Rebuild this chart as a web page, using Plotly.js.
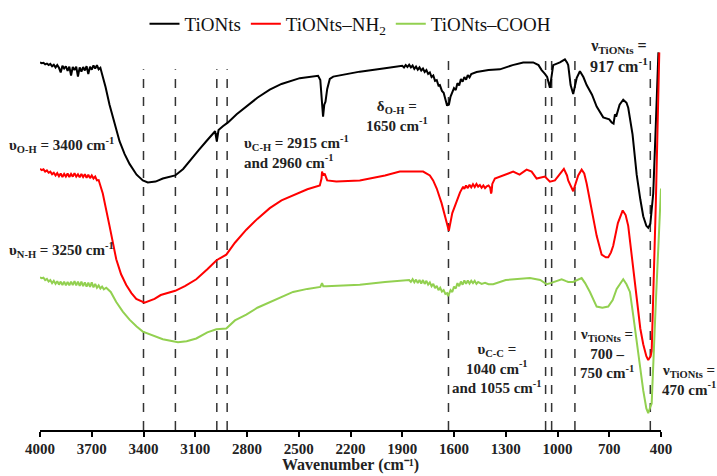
<!DOCTYPE html>
<html>
<head>
<meta charset="utf-8">
<script src="https://cdn.plot.ly/plotly-3.0.1.min.js"></script>
<style>html,body{margin:0;padding:0;background:#fff;}#chart{width:717px;height:476px;}</style>
</head>
<body>
<div id="chart"></div>
<script>
// Wavenumber (cm-1) and transmittance (a.u., offset)
const wnTiONts = [4000,3990,3980,3970,3960,3950,3940,3930,3920,3910,3900,3890,3880,3870,3860,3850,3840,3830,3820,3810,3800,3790,3780,3770,3760,3750,3740,3730,3720,3710,3700,3690,3680,3670,3660,3650,3640,3620,3597,3570,3539,3510,3481,3440,3404,3375,3330,3288,3250,3216,3170,3133,3080,3036,3000,2985,2975,2965,2940,2910,2860,2804,2740,2668,2600,2494,2420,2388,2375,2365,2359,2352,2345,2335,2320,2300,2146,2000,1953,1900,1890,1880,1870,1860,1850,1840,1830,1820,1810,1800,1790,1780,1770,1760,1750,1740,1730,1720,1710,1700,1690,1682,1670,1660,1650,1645,1640,1635,1630,1620,1610,1600,1590,1580,1570,1560,1550,1540,1530,1520,1510,1500,1469,1400,1334,1260,1199,1141,1110,1092,1073,1060,1044,1032,1025,986,957,945,938,924,909,889,870,850,831,800,773,735,700,686,675,667,660,640,619,600,590,565,541,520,503,485,474,462,445,430,415];
const tTiONts = [95.6,95.4,95.5,95.1,95.3,94.9,95.2,94.6,95.0,94.3,94.9,94.2,93.0,94.7,94.0,94.6,93.4,94.5,92.2,94.4,93.6,94.5,91.9,94.3,93.2,94.4,93.5,94.6,92.6,94.5,93.7,94.8,94.0,94.9,93.8,94.2,92.5,89.2,84.6,80.0,75.1,71.8,69.2,66.4,64.9,64.4,64.6,65.4,65.9,66.2,67.9,70.0,72.8,75.1,76.9,77.7,75.1,78.0,79.0,80.0,82.1,84.1,86.4,88.5,90.0,91.5,91.9,92.1,91.0,85.9,81.5,84.6,85.4,88.7,91.3,91.9,93.2,94.1,94.4,94.7,94.3,94.9,94.4,95.0,94.3,94.8,93.9,94.5,93.7,94.3,93.5,94.0,93.1,93.6,92.6,93.0,91.8,92.2,90.8,91.0,89.6,89.7,88.2,87.7,86.0,85.3,84.3,85.0,84.5,86.7,87.6,88.9,88.4,90.2,89.6,91.3,90.6,91.8,91.1,92.3,91.7,92.6,93.1,93.6,93.8,94.9,95.6,95.6,94.9,93.6,92.6,91.8,89.0,92.8,94.9,95.6,96.4,95.6,94.9,89.7,87.4,91.5,93.3,91.8,89.7,87.2,84.1,81.3,80.8,80.0,79.7,82.1,81.5,84.6,85.9,85.1,83.8,76.9,66.4,60.0,55.6,53.1,52.6,53.6,61.5,79.5,98.2];

const wnNH2 = [4000,3990,3980,3970,3960,3950,3940,3930,3920,3910,3900,3890,3880,3870,3860,3850,3840,3830,3820,3810,3800,3790,3780,3770,3760,3750,3740,3730,3720,3710,3700,3690,3680,3670,3660,3650,3636,3597,3558,3530,3500,3470,3442,3394,3360,3336,3300,3260,3216,3160,3094,3030,2978,2960,2935,2920,2870,2804,2740,2668,2600,2533,2450,2378,2368,2365,2358,2350,2335,2282,2146,2000,1914,1779,1740,1721,1700,1672,1650,1630,1610,1585,1565,1547,1540,1530,1520,1510,1500,1490,1480,1470,1460,1450,1440,1430,1420,1410,1400,1390,1385,1382,1378,1363,1315,1257,1220,1179,1150,1121,1073,1044,1015,985,963,945,938,909,880,860,845,831,800,773,744,720,706,690,677,650,622,605,590,565,541,520,503,485,474,460,454,430,410];
const tNH2 = [67.9,67.6,67.8,67.2,67.5,66.9,67.2,66.5,66.9,66.2,66.8,66.0,66.7,65.8,66.6,65.9,66.7,65.8,66.6,65.9,66.8,65.9,66.5,65.7,66.6,65.8,66.5,65.6,66.4,65.5,66.2,65.4,65.9,64.9,65.0,63.6,61.5,53.1,44.4,40.5,37.7,35.6,34.1,33.1,33.6,34.1,35.1,35.6,36.2,37.4,39.2,41.8,44.1,44.6,45.1,45.6,48.7,52.1,54.9,57.7,59.7,61.0,62.6,63.6,65.4,67.2,66.2,66.7,64.9,64.6,64.9,66.2,67.2,67.2,66.2,64.9,62.8,59.0,55.1,51.8,56.4,59.7,61.8,63.3,62.7,63.6,62.9,63.8,63.1,63.9,63.2,64.0,63.3,63.7,63.0,63.6,62.9,63.4,63.6,63.0,61.5,62.0,64.0,65.4,66.2,67.2,66.4,67.7,67.2,65.4,65.9,64.6,64.9,66.7,67.9,66.2,64.9,62.1,66.2,67.7,66.7,64.1,56.4,50.5,45.6,44.9,44.9,46.2,47.9,53.8,57.1,55.9,53.1,43.6,33.3,26.4,22.3,19.2,18.2,19.2,20.5,59.0,98.2];

const wnCOOH = [4000,3990,3980,3970,3960,3950,3940,3930,3920,3910,3900,3890,3880,3870,3860,3850,3840,3830,3820,3810,3800,3790,3780,3770,3760,3750,3740,3730,3720,3710,3700,3690,3680,3670,3660,3650,3640,3630,3616,3590,3558,3520,3481,3440,3404,3340,3288,3200,3150,3094,3030,2978,2920,2870,2804,2740,2668,2600,2533,2450,2375,2365,2358,2340,2146,2000,1860,1850,1840,1830,1820,1810,1800,1790,1780,1770,1760,1750,1740,1730,1720,1710,1700,1690,1680,1670,1660,1650,1640,1634,1628,1620,1610,1600,1590,1580,1570,1560,1550,1540,1530,1520,1510,1500,1490,1480,1470,1460,1440,1420,1400,1373,1300,1257,1160,1100,1063,1040,1010,976,950,938,910,880,860,840,812,773,740,706,680,657,619,600,580,560,541,520,503,485,474,465,454,430,400];
const tCOOH = [39.7,39.5,39.6,39.0,39.3,38.6,39.0,38.2,38.8,38.0,38.7,37.8,38.6,37.7,38.6,37.6,38.5,37.6,38.6,37.7,38.7,37.6,38.6,37.5,38.6,37.4,38.4,37.3,38.3,37.2,38.4,37.1,38.0,37.0,37.6,36.8,37.3,36.6,37.0,35.9,33.3,30.8,28.7,26.9,25.6,24.4,23.6,22.8,23.1,23.8,25.4,26.2,26.4,28.5,30.0,31.8,33.3,34.6,35.9,36.7,37.2,38.2,37.4,37.4,37.8,38.5,39.0,38.5,39.2,38.4,39.1,38.2,39.0,38.1,39.0,38.0,38.8,37.8,38.4,37.4,38.0,36.9,37.5,36.4,37.0,36.0,36.4,35.4,35.6,34.8,35.5,36.4,35.9,37.3,36.8,38.2,37.4,38.6,37.8,38.9,38.0,38.9,38.1,38.8,38.2,38.8,38.0,38.5,38.0,38.3,37.9,37.9,39.0,39.2,39.5,39.0,37.9,38.2,38.7,39.2,38.7,38.5,38.5,39.0,39.5,38.2,35.9,32.1,31.8,32.1,33.8,36.7,39.2,37.9,35.9,29.5,23.1,15.9,10.3,5.6,4.4,5.6,6.9,33.3,62.8];

const seriesNames = ["TiONts","TiONts–NH<sub>2</sub>","TiONts–COOH"];
const seriesColors = ["#000000","#ff0000","#92d050"];

// Band positions marked with dashed lines (cm-1) and their top (a.u.)
const bandWn = [3400,3215,2975,2915,1632,1069,1034,899,462];
const bandTop = [93.8,93.8,93.8,93.8,96.7,96.7,96.7,96.7,96.7];

const tickVals = [4000,3700,3400,3100,2800,2500,2200,1900,1600,1300,1000,700,400];
const tickText = tickVals.map(String);
const xTitle = "Wavenumber (cm⁻¹)";

const serif = "Liberation Serif, Times New Roman, serif";

const traces = [
  {x: wnTiONts, y: tTiONts, name: seriesNames[0], line: {color: seriesColors[0], width: 2}},
  {x: wnNH2, y: tNH2, name: seriesNames[1], line: {color: seriesColors[1], width: 2}},
  {x: wnCOOH, y: tCOOH, name: seriesNames[2], line: {color: seriesColors[2], width: 2}}
].map(t => Object.assign({type: "scatter", mode: "lines", hoverinfo: "skip"}, t));

const shapes = bandWn.map((w, i) => ({
  type: "line", xref: "x", yref: "y", x0: w, x1: w, y0: 0, y1: bandTop[i],
  line: {color: "#333333", width: 1.5, dash: "dash"}, layer: "below"
}));

const annTexts = [
  {t: "υ<sub>O-H</sub> = 3400 cm<sup>-1</sup>", x: -0.053, y: 0.681, xa: "left", al: "left", s: 15},
  {t: "υ<sub>N-H</sub> = 3250 cm<sup>-1</sup>", x: -0.053, y: 0.4306, xa: "left", al: "left", s: 15},
  {t: "υ<sub>C-H</sub> = 2915 cm<sup>-1</sup><br>and 2960 cm<sup>-1</sup>", x: 0.325, y: 0.6628, xa: "left", al: "left", s: 15},
  {t: "δ<sub>O-H</sub> =<br>1650 cm<sup>-1</sup>", x: 0.575, y: 0.7494, xa: "center", al: "center", s: 15},
  {t: "ν<sub>TiONts</sub> =<br>917 cm<sup>-1</sup>", x: 0.932, y: 0.8918, xa: "center", al: "center", s: 16},
  {t: "υ<sub>C-C</sub> =<br>1040 cm<sup>-1</sup><br>and 1055 cm<sup>-1</sup>", x: 0.736, y: 0.1459, xa: "center", al: "center", s: 15},
  {t: "ν<sub>TiONts</sub> =<br>700 –<br>750 cm<sup>-1</sup>", x: 0.913, y: 0.1824, xa: "center", al: "center", s: 15},
  {t: "ν<sub>TiONts</sub> =<br>470 cm<sup>-1</sup>", x: 1.045, y: 0.12, xa: "center", al: "center", s: 15}
];
const annotations = annTexts.map(a => ({
  text: a.t, x: a.x, y: a.y, xref: "paper", yref: "paper", xanchor: a.xa, yanchor: "middle",
  align: a.al, showarrow: false, font: {family: serif, size: a.s, color: "#222222", weight: "bold"}
}));
annotations.push({
  text: xTitle, x: 0.5, y: -0.1082, xref: "paper", yref: "paper", xanchor: "center", yanchor: "bottom",
  showarrow: false, borderpad: 0, font: {family: serif, size: 16, color: "#222222", weight: "bold"}
});

const layout = {
  width: 717, height: 476,
  margin: {l: 40, r: 56, t: 5, b: 46},
  paper_bgcolor: "#ffffff", plot_bgcolor: "#ffffff",
  showlegend: true,
  legend: {orientation: "h", x: 0.5, xanchor: "center", y: 0.969, yanchor: "middle",
    bgcolor: "rgba(255,255,255,0)",
    font: {family: serif, size: 19, color: "#111111"}, itemwidth: 30, tracegroupgap: 0},
  xaxis: {
    range: [4000, 400], autorange: false,
    tickvals: tickVals, ticktext: tickText,
    showline: true, linecolor: "#000000", linewidth: 2,
    ticks: "outside", ticklen: 5, tickwidth: 2, tickcolor: "#000000",
    ticklabelstandoff: -1,
    showgrid: false, zeroline: false, automargin: false,
    tickfont: {family: serif, size: 15, color: "#222222", weight: "bold"}
  },
  yaxis: {range: [0, 108.97], autorange: false, visible: false, showgrid: false, zeroline: false},
  shapes: shapes,
  annotations: annotations
};

Plotly.newPlot("chart", traces, layout, {displayModeBar: false, staticPlot: true});
</script>
</body>
</html>
